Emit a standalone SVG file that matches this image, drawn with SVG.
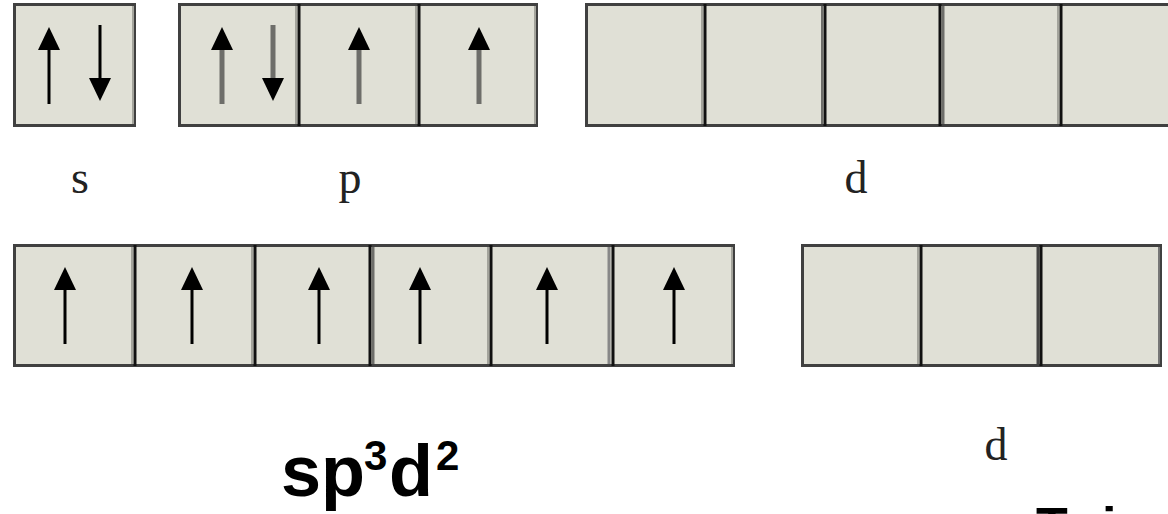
<svg xmlns="http://www.w3.org/2000/svg" width="1168" height="514" viewBox="0 0 1168 514">
<style>
.cell{fill:#e0e0d6;stroke:#404040;stroke-width:3}
.sep{stroke:#111;stroke-width:3}
.hl{stroke:#a4a49c;stroke-width:2}
.lbl{font-family:"Liberation Serif","Times New Roman",serif;font-size:46px;fill:#222;text-anchor:middle}
.big{font-family:"Liberation Sans",Arial,sans-serif;font-weight:bold;fill:#000}
</style>
<defs>
<g id="upB"><line x1="0" y1="20" x2="0" y2="77" stroke="#000" stroke-width="3"/><polygon points="0,0 -11,23 11,23" fill="#000"/></g>
<g id="upG"><line x1="0" y1="20" x2="0" y2="77" stroke="#6e6e6a" stroke-width="5"/><polygon points="0,0 -11,23 11,23" fill="#000"/></g>
<g id="dnB"><line x1="0" y1="-20" x2="0" y2="-76" stroke="#000" stroke-width="3"/><polygon points="0,0 -11,-23 11,-23" fill="#000"/></g>
<g id="dnG"><line x1="0" y1="-20" x2="0" y2="-76" stroke="#6e6e6a" stroke-width="5"/><polygon points="0,0 -11,-23 11,-23" fill="#000"/></g>
</defs>
<rect width="1168" height="514" fill="#fff"/>

<g id="s-orbital">
<rect class="cell" x="14.5" y="4.5" width="120" height="121"/>
<line class="hl" x1="133" y1="6" x2="133" y2="124"/>
<use href="#upB" x="49" y="27"/>
<use href="#dnB" x="100" y="101"/>
</g>

<g id="p-orbitals">
<rect class="cell" x="179.5" y="4.5" width="357" height="121"/>
<line class="hl" x1="296" y1="6" x2="296" y2="124"/>
<line class="sep" x1="299" y1="4" x2="299" y2="126"/>
<line class="hl" x1="416" y1="6" x2="416" y2="124"/>
<line class="sep" x1="419" y1="4" x2="419" y2="126"/>
<line class="hl" x1="535" y1="6" x2="535" y2="124"/>
<use href="#upG" x="222" y="27"/>
<use href="#dnG" x="273" y="101"/>
<use href="#upG" x="359" y="27"/>
<use href="#upG" x="479" y="27"/>
</g>

<g id="d-orbitals-top">
<rect class="cell" x="586.5" y="4.5" width="600" height="121"/>
<line class="hl" x1="702" y1="6" x2="702" y2="124"/>
<line class="sep" x1="705" y1="4" x2="705" y2="126"/>
<line stroke="#6e6e6a" stroke-width="2" x1="822" y1="6" x2="822" y2="124"/>
<line class="sep" x1="825" y1="4" x2="825" y2="126"/>
<line class="sep" x1="940" y1="4" x2="940" y2="126"/>
<line stroke="#6e6e6a" stroke-width="3" x1="943" y1="6" x2="943" y2="124"/>
<line class="hl" x1="1058" y1="6" x2="1058" y2="124"/>
<line class="sep" x1="1061" y1="4" x2="1061" y2="126"/>
</g>

<g id="labels-top">
<text class="lbl" x="80" y="193">s</text>
<text class="lbl" x="350" y="193">p</text>
<text class="lbl" x="856" y="193">d</text>
</g>

<g id="hybrid-orbitals">
<rect class="cell" x="14.5" y="245.5" width="719" height="120"/>
<line class="hl" x1="132" y1="247" x2="132" y2="364"/>
<line class="sep" x1="135" y1="245" x2="135" y2="366"/>
<line class="hl" x1="252" y1="247" x2="252" y2="364"/>
<line class="sep" x1="255" y1="245" x2="255" y2="366"/>
<line class="sep" x1="370" y1="245" x2="370" y2="366"/>
<line stroke="#6e6e6a" stroke-width="3" x1="373" y1="247" x2="373" y2="364"/>
<line class="hl" x1="488" y1="247" x2="488" y2="364"/>
<line class="sep" x1="491" y1="245" x2="491" y2="366"/>
<line stroke="#888" stroke-width="3" x1="609" y1="247" x2="609" y2="364"/>
<line class="sep" x1="613" y1="245" x2="613" y2="366"/>
<line class="hl" x1="732" y1="247" x2="732" y2="364"/>
<use href="#upB" x="65" y="267"/>
<use href="#upB" x="192" y="267"/>
<use href="#upB" x="319" y="267"/>
<use href="#upB" x="420" y="267"/>
<use href="#upB" x="547" y="267"/>
<use href="#upB" x="674" y="267"/>
</g>

<g id="d-orbitals-bottom">
<rect class="cell" x="802.5" y="245.5" width="358" height="120"/>
<line class="hl" x1="918" y1="247" x2="918" y2="364"/>
<line class="sep" x1="921" y1="245" x2="921" y2="366"/>
<line stroke="#444" stroke-width="3" x1="1038" y1="247" x2="1038" y2="364"/>
<line class="sep" x1="1041" y1="245" x2="1041" y2="366"/>
<line stroke="#777" stroke-width="2" x1="1159" y1="247" x2="1159" y2="364"/>
</g>

<g id="labels-bottom">
<text class="lbl" x="996" y="460">d</text>
<text class="big" x="281" y="496" font-size="72">sp</text>
<text class="big" x="364" y="470" font-size="42">3</text>
<text class="big" x="389" y="496" font-size="72">d</text>
<text class="big" x="436" y="470" font-size="42">2</text>
<text class="big" x="1036 1068 1102" y="544" font-size="52">Tri</text>
</g>
</svg>
